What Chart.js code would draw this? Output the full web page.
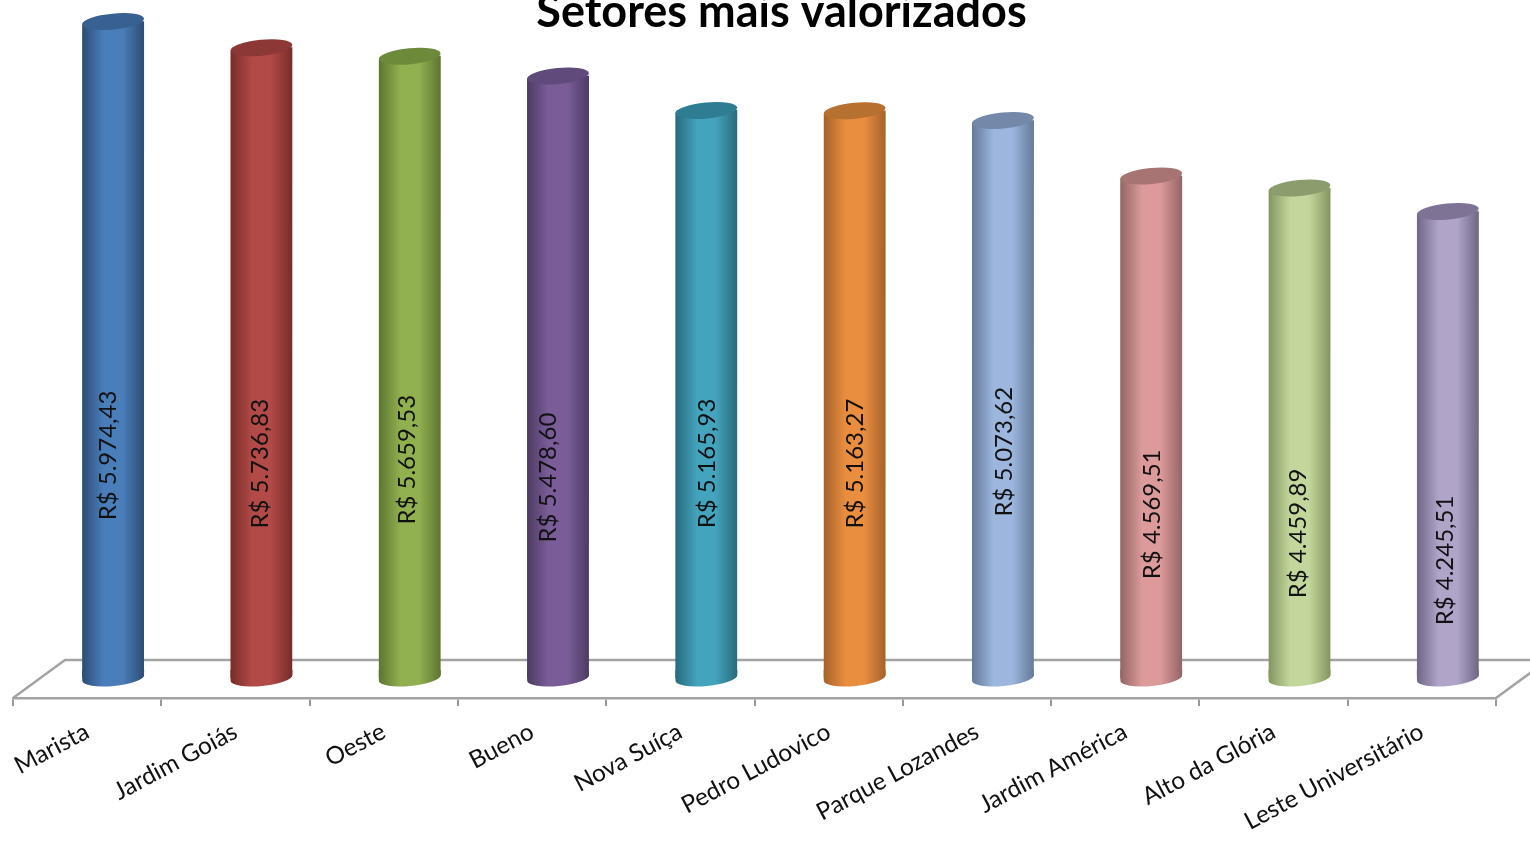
<!DOCTYPE html>
<html lang="pt-BR">
<head>
<meta charset="utf-8">
<title>Setores mais valorizados</title>
<script src="https://cdn.jsdelivr.net/npm/chart.js@4/dist/chart.umd.min.js"></script>
<style>
    html, body { margin: 0; padding: 0; background: #fff; overflow: hidden; width: 1530px; height: 841px; }
    #chart { position: absolute; left: 0; top: -15px; }
</style>
</head>
<body>
<canvas id="chart" width="1530" height="856"></canvas>
<script>
// Chart data
const categories = ['Marista', 'Jardim Goiás', 'Oeste', 'Bueno', 'Nova Suíça', 'Pedro Ludovico', 'Parque Lozandes', 'Jardim América', 'Alto da Glória', 'Leste Universitário'];
const values = [5974.43, 5736.83, 5659.53, 5478.60, 5165.93, 5163.27, 5073.62, 4569.51, 4459.89, 4245.51];

// Cylinder colours
const midColors = ['#4a7ebb', '#b24a47', '#91b050', '#7a5d98', '#44a3bd', '#e98d3f', '#9cb6dd', '#dc9a9b', '#c3d79c', '#b0a4c9'];
const edgeColors = ['#2c4d75', '#772c2a', '#5d7530', '#4d3b62', '#276a7c', '#a5622a', '#64799a', '#936464', '#83955f', '#6f6685'];
const topColors = ['#386192', '#8c3836', '#6d8a3a', '#5f4a7b', '#2f7d93', '#b6702f', '#7489aa', '#a87373', '#8b9d6c', '#7e7395'];

// Where each value label sits, as a share of the bar height and a nudge from the bar centre
const labelHeights = [0.339, 0.340, 0.351, 0.333, 0.378, 0.378, 0.406, 0.326, 0.295, 0.252];
const labelNudges = [-5, -1, -2, -10, 1, 1, 1, 1, -1, -3];

const FONT = 'Lato, Carlito, "Open Sans", sans-serif';
const BAR_WIDTH = 62;
const DEPTH_X = 52, DEPTH_Y = 38;   // floor depth
const BAR_SHIFT_X = 26, BAR_SHIFT_Y = -20;   // bars stand in the middle of the floor
const TILT = -5.5 * Math.PI / 180;
const RY = 8;

function formatValue(v) {
    return 'R$ ' + v.toLocaleString('pt-BR', { minimumFractionDigits: 2, maximumFractionDigits: 2 });
}

function cylinderPath(ctx, bar) {
    const rx = bar.width / 2;
    const dy = Math.sin(TILT) * rx;
    ctx.moveTo(bar.x - rx, bar.y - dy);
    ctx.lineTo(bar.x - rx, bar.base - dy);
    ctx.ellipse(bar.x, bar.base, rx, RY, TILT, Math.PI, 0, true);
    ctx.lineTo(bar.x + rx, bar.y + dy);
    ctx.ellipse(bar.x, bar.y, rx, RY, TILT, 0, Math.PI, true);
    ctx.closePath();
}

function barGradient(ctx, x, i) {
    const g = ctx.createLinearGradient(x - BAR_WIDTH / 2, 0, x + BAR_WIDTH / 2, 0);
    g.addColorStop(0, edgeColors[i]);
    g.addColorStop(0.35, midColors[i]);
    g.addColorStop(0.65, midColors[i]);
    g.addColorStop(1, edgeColors[i]);
    return g;
}

// Floor of the 3D box, behind the bars
const floorPlugin = {
    id: 'floor',
    beforeDatasetsDraw(chart) {
        const { ctx, chartArea: a } = chart;
        ctx.save();
        ctx.strokeStyle = '#a3a3a3';
        ctx.lineWidth = 2.5;
        ctx.beginPath();
        ctx.moveTo(a.left, a.bottom);
        ctx.lineTo(a.left + DEPTH_X, a.bottom - DEPTH_Y);
        ctx.lineTo(a.right + DEPTH_X, a.bottom - DEPTH_Y);
        ctx.moveTo(a.right, a.bottom);
        ctx.lineTo(a.right + DEPTH_X, a.bottom - DEPTH_Y);
        ctx.stroke();
        ctx.restore();
    }
};

// Turns the flat bars into cylinders and writes the value labels on them
const cylinderPlugin = {
    id: 'cylinder',
    afterLayout(chart) {
        // title is centred a bit right of the page centre
        const t = chart.titleBlock;
        t.left = 2 * 781.5 - t.right;
    },
    beforeDatasetDraw(chart) {
        const { ctx } = chart;
        ctx.save();
        ctx.translate(BAR_SHIFT_X, BAR_SHIFT_Y);
        ctx.beginPath();
        chart.getDatasetMeta(0).data.forEach(bar => cylinderPath(ctx, bar));
        ctx.clip();
    },
    afterDatasetDraw(chart) {
        const { ctx } = chart;
        ctx.restore();
        ctx.save();
        ctx.translate(BAR_SHIFT_X, BAR_SHIFT_Y);
        chart.getDatasetMeta(0).data.forEach((bar, i) => {
            const rx = bar.width / 2;
            // bottom cap
            ctx.fillStyle = barGradient(ctx, bar.x, i);
            ctx.beginPath();
            ctx.ellipse(bar.x, bar.base, rx, RY, TILT, 0, Math.PI);
            ctx.lineTo(bar.x - rx, bar.base - 8);
            ctx.lineTo(bar.x + rx, bar.base - 8);
            ctx.closePath();
            ctx.fill();
            // top cap
            ctx.fillStyle = topColors[i];
            ctx.beginPath();
            ctx.ellipse(bar.x, bar.y, rx, RY, TILT, 0, Math.PI * 2);
            ctx.fill();
            // value label
            const y = bar.base - (bar.base - bar.y) * labelHeights[i];
            ctx.save();
            ctx.translate(bar.x + labelNudges[i], y);
            ctx.rotate(-Math.PI / 2);
            ctx.font = '24px ' + FONT;
            ctx.fillStyle = '#111';
            ctx.textAlign = 'center';
            ctx.textBaseline = 'middle';
            ctx.fillText(formatValue(values[i]), 0, 0);
            ctx.restore();
        });
        ctx.restore();
    }
};

new Chart(document.getElementById('chart'), {
    type: 'bar',
    data: {
        labels: categories,
        datasets: [{
            data: values,
            barThickness: BAR_WIDTH,
            clip: false,
            backgroundColor: function(context) {
                const i = context.dataIndex;
                const xScale = context.chart.scales.x;
                if (!xScale || i === undefined) return midColors[i || 0];
                return barGradient(context.chart.ctx, xScale.getPixelForTick(i), i);
            }
        }]
    },
    options: {
        responsive: false,
        animation: false,
        layout: { padding: { left: 13, right: 34, top: 0, bottom: 0 } },
        plugins: {
            legend: { display: false },
            tooltip: { enabled: false },
            title: {
                display: true,
                text: 'Setores mais valorizados',
                color: '#000',
                font: { family: FONT, size: 45, weight: 'bold', lineHeight: 1.2 },
                padding: 0
            }
        },
        scales: {
            x: {
                afterFit(scale) { scale.height = 143; },
                border: { color: '#a3a3a3', width: 2.5 },
                grid: { drawOnChartArea: false, drawTicks: true, tickLength: 8, color: '#999', lineWidth: 2 },
                ticks: {
                    color: '#111',
                    font: { family: FONT, size: 24.3 },
                    minRotation: 28,
                    maxRotation: 28,
                    padding: 11,
                    autoSkip: false
                }
            },
            y: {
                display: false,
                min: 0,
                max: 5998
            }
        }
    },
    plugins: [floorPlugin, cylinderPlugin]
});
</script>
</body>
</html>
